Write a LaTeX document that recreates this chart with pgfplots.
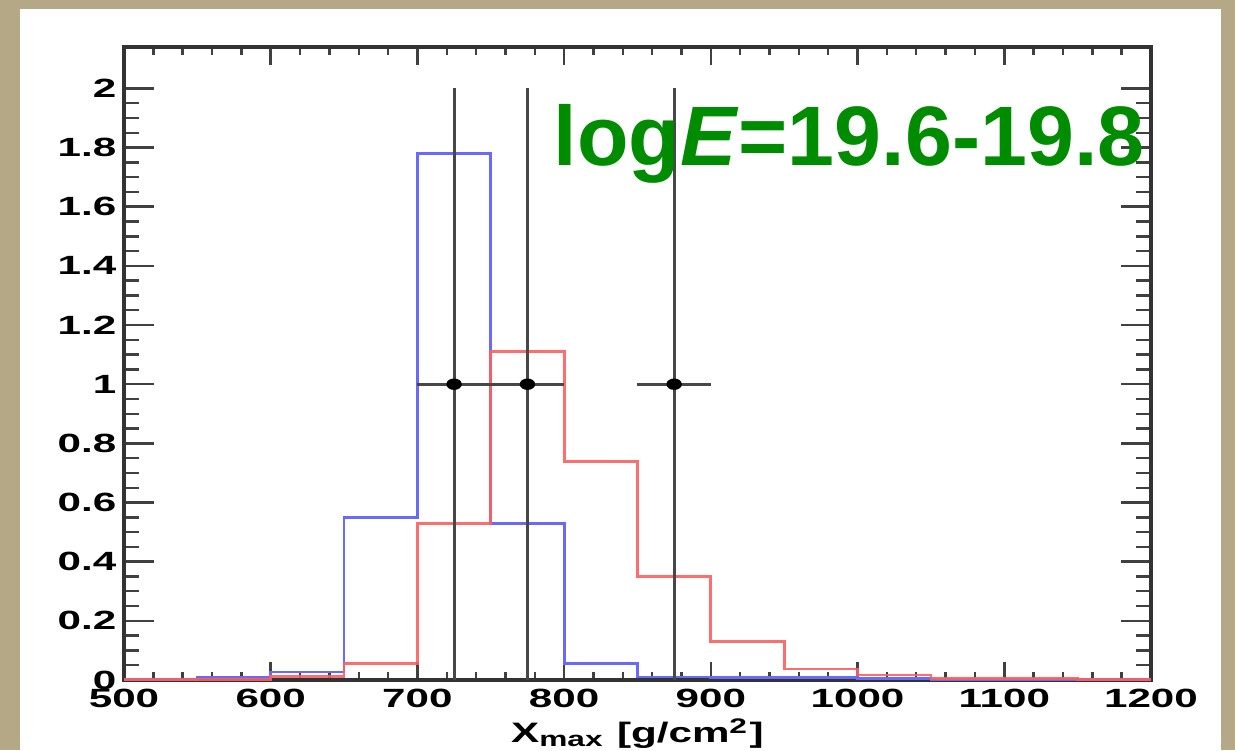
\documentclass[border=0pt]{standalone}
\usepackage{pgfplots}
\pgfplotsset{compat=1.18}
\usepackage{graphicx}
\usepackage{fontspec}
\setmainfont{Liberation Sans}
\definecolor{bgpaper}{RGB}{180,168,135}
\definecolor{rootgreen}{RGB}{0,140,0}
\definecolor{histred}{RGB}{255,95,95}
\definecolor{histblue}{RGB}{105,105,255}
\begin{document}
\begin{tikzpicture}[x=1mm,y=1mm]
\useasboundingbox (0,0) rectangle (123.5,75);
\fill[bgpaper] (0,0) rectangle (123.5,75);
\fill[white] (2.0,-1) rectangle (122.1,74.1);
\begin{axis}[
  at={(12.4mm,7.0mm)}, anchor=south west,
  scale only axis, width=102.7mm, height=63.3mm,
  xmin=500, xmax=1200, ymin=0, ymax=2.14,
  xtick={500,600,...,1200},
  ytick={0,0.2,...,2.01},
  minor x tick num=4, minor y tick num=3,
  tick align=inside, tick pos=both,
  major tick length=3mm, minor tick length=1.5mm,
  xtick style={/pgfplots/major tick length=1.8mm,/pgfplots/minor tick length=0.8mm},
  axis line style={line width=0.9pt, black!80},
  every tick/.style={line width=0.7pt, black!75},
  xticklabel={\scalebox{1.6}[1]{\pgfmathprintnumber[assume math mode=true,1000 sep={}]{\tick}}},
  yticklabel={\scalebox{1.6}[1]{\pgfmathprintnumber[assume math mode=true]{\tick}}},
  ticklabel style={font=\fontsize{7.5}{8}\selectfont\bfseries},
  xticklabel style={inner sep=0pt, yshift=-0.8mm},
  yticklabel style={inner sep=0pt, xshift=-0.7mm},
  xlabel={\scalebox{1.5}[1]{X\textsubscript{max} [g/cm\textsuperscript{2}]}},
  xlabel style={font=\fontsize{8}{9}\selectfont\bfseries, at={(axis description cs:0.5,-0.0995)}, anchor=base, inner sep=0pt},
  clip=false,
]
% blue histogram
\addplot[const plot, histblue, line width=0.8pt] coordinates {
(500,0.003) (550,0.008) (600,0.027) (650,0.55) (700,1.78) (750,0.53) (800,0.057)
(850,0.01) (900,0.008) (950,0.008) (1000,0.005) (1050,0.002) (1100,0.002) (1150,0.002) (1200,0.002)};
% red histogram
\addplot[const plot, histred, opacity=0.9, line width=0.8pt] coordinates {
(500,0.002) (550,0.002) (600,0.013) (650,0.057) (700,0.53) (750,1.11) (800,0.74)
(850,0.35) (900,0.13) (950,0.037) (1000,0.017) (1050,0.004) (1100,0.004) (1150,0.001) (1200,0.001)};
% data points with error bars
\addplot[only marks, mark=*, mark size=0.5mm, mark options={xscale=1.4, fill=black, draw=black},
  error bars/.cd, x dir=both, x explicit, y dir=both, y explicit, error mark=none,
  error bar style={line width=0.8pt, black!72}]
  coordinates {
  (725,1) +- (25,1)
  (775,1) +- (25,1)
  (875,1) +- (25,1)
};
\node[anchor=base east, inner sep=0pt, text=rootgreen, font=\fontsize{24}{26}\selectfont\bfseries]
  at (axis cs:1196,1.74) {log\textit{E}=19.6-19.8};
\end{axis}
\end{tikzpicture}
\end{document}
